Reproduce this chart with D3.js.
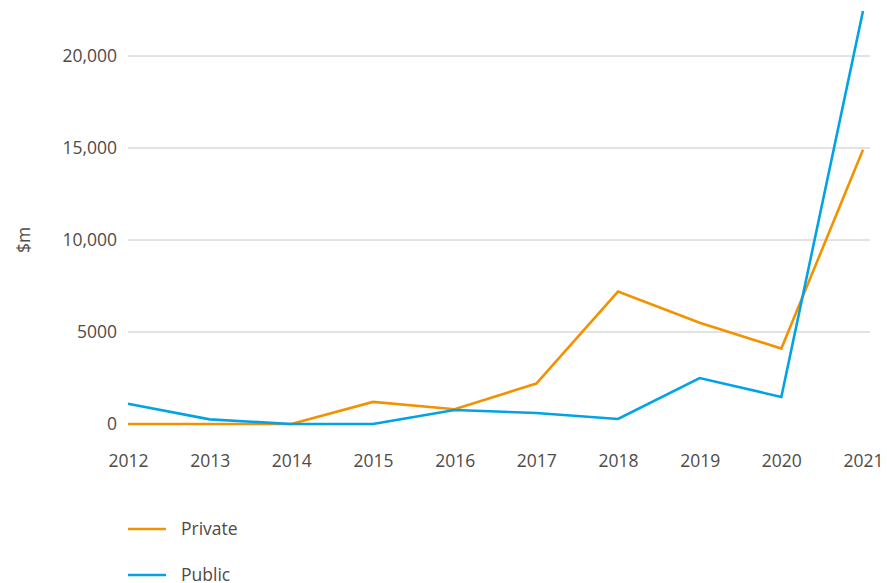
<!DOCTYPE html>
<html><head><meta charset="utf-8">
<script src="https://cdn.jsdelivr.net/npm/d3@7"></script>
<style>body{margin:0;background:#fff}svg{display:block}text{font-family:"Open Sans","Noto Sans",sans-serif;fill:#4f4a48}</style>
</head><body><svg id="c" width="887" height="583"></svg>
<script>
const years = [2012,2013,2014,2015,2016,2017,2018,2019,2020,2021];
const privateVals = [0,0,0,1200,800,2200,7200,5500,4100,14900];
const publicVals = [1100,250,0,0,760,600,270,2500,1470,22450];
const yTicks = [0,5000,10000,15000,20000];
const seriesNames = ["Private","Public"];
const colors = ["#F39200","#00A3E6"];

const FS = 17.5;
const svg = d3.select("#c");
const x = d3.scalePoint().domain(years).range([128,863]);
const y = d3.scaleLinear().domain([0,20000]).range([424,56]);
const fmt = v => v >= 10000 ? d3.format(",")(v) : String(v);

// gridlines
svg.append("g").selectAll("line").data(yTicks.filter(d=>d>0)).join("line")
  .attr("x1",128).attr("x2",870).attr("y1",d=>y(d)).attr("y2",d=>y(d))
  .attr("stroke","#c6c6c6").attr("stroke-width",1);

// y axis labels
const ya = svg.append("g").attr("transform","translate(117,0)")
  .call(d3.axisLeft(y).tickValues(yTicks).tickFormat(fmt).tickSize(0).tickPadding(0));
ya.select(".domain").remove();
ya.selectAll("text").attr("font-size",FS).attr("fill","#4f4a48").attr("font-family","Open Sans, Noto Sans, sans-serif");

// x axis labels
const xa = svg.append("g").attr("transform","translate(0,461)")
  .call(d3.axisBottom(x).tickSize(0).tickPadding(0));
xa.select(".domain").remove();
xa.selectAll("text").attr("font-size",FS).attr("fill","#4f4a48").attr("dy","0.35em").attr("font-family","Open Sans, Noto Sans, sans-serif");

// y title
svg.append("text").attr("transform","translate(30,240) rotate(-90)")
  .attr("text-anchor","middle").attr("font-size",FS).text("$m");

const line = d3.line().x((d,i)=>x(years[i])).y(d=>y(d));
[privateVals, publicVals].forEach((vals,k)=>{
  svg.append("path").datum(vals).attr("d",line).attr("fill","none")
    .attr("stroke",colors[k]).attr("stroke-width",2.6).attr("stroke-linejoin","miter");
});

// legend
const lg = svg.append("g").selectAll("g").data(seriesNames).join("g")
  .attr("transform",(d,i)=>`translate(128,${529+i*46})`);
lg.append("line").attr("x1",0).attr("x2",38).attr("stroke",(d,i)=>colors[i]).attr("stroke-width",2.6);
lg.append("text").attr("x",53).attr("dy","0.35em").attr("font-size",FS).text(d=>d);
</script></body></html>
